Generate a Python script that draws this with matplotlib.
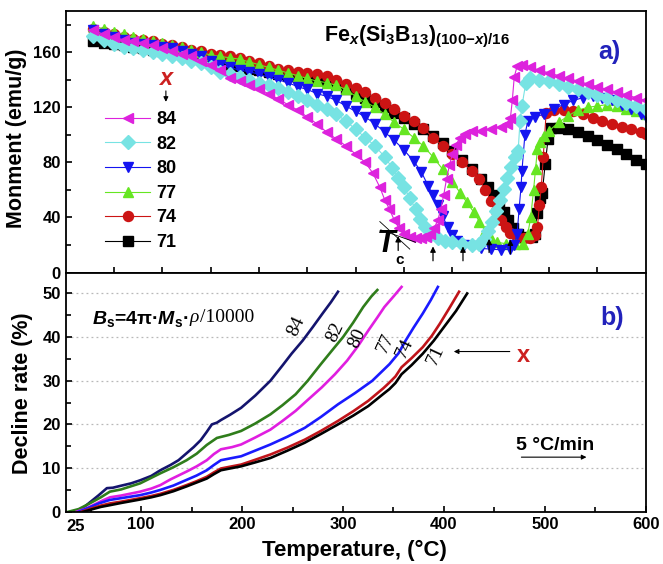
import matplotlib
matplotlib.use('Agg')
import matplotlib.pyplot as plt
from matplotlib.ticker import MultipleLocator

plt.rcParams['font.family'] = ['Liberation Sans', 'DejaVu Sans']
plt.rcParams['font.weight'] = 'bold'
plt.rcParams['mathtext.fontset'] = 'custom'
plt.rcParams['mathtext.rm'] = 'Liberation Sans:bold'
plt.rcParams['mathtext.it'] = 'Liberation Sans:italic:bold'
plt.rcParams['mathtext.bf'] = 'Liberation Sans:bold'

## a) moment vs temperature, one (T, M) pair of lists per x
t84 = [28, 40, 50, 60, 70, 80, 90, 100, 110, 120, 130, 140, 150, 160, 170, 180, 190, 200, 210, 220,
       230, 240, 250, 260, 270, 280, 290, 300, 310, 318, 325, 330, 335, 340, 345, 350, 356, 362, 368, 373,
       377, 381, 385, 388, 391, 394, 397, 400, 404, 408, 413, 420, 430, 440, 450, 456, 460, 462, 464, 467,
       472, 480, 490, 500, 510, 520, 530, 540, 550, 560, 570, 580, 590, 600]
m84 = [176, 173, 171, 169, 168, 167, 165, 163, 161, 159, 157, 154, 151, 147, 141, 139, 136, 133, 130, 126,
       122, 118, 113, 108, 102, 97, 92, 86, 80, 72, 62, 53, 46, 38, 32, 28, 26, 25, 25, 26,
       28, 32, 38, 46, 56, 68, 78, 86, 93, 98, 101, 103, 103, 104, 106, 108, 112, 125, 142, 150,
       151, 149, 147, 145, 143, 141, 139, 137, 135, 133, 131, 129, 127, 125]

t82 = [28, 40, 50, 60, 70, 80, 90, 100, 110, 120, 130, 140, 150, 160, 170, 180, 190, 200, 210, 220,
       230, 240, 250, 260, 270, 280, 290, 300, 310, 320, 330, 338, 344, 350, 356, 362, 367, 372, 378, 385,
       392, 400, 410, 420, 428, 433, 437, 441, 445, 449, 453, 457, 461, 465, 468, 470, 472, 476, 480, 490,
       500, 510, 520, 530, 540, 550, 560, 570, 580, 590, 600]
m82 = [172, 169, 166, 164, 163, 162, 160, 159, 157, 156, 154, 152, 149, 146, 144, 142, 140, 138, 136, 134,
       131, 128, 125, 122, 119, 115, 110, 104, 98, 92, 84, 76, 69, 62, 54, 46, 39, 33, 28, 25,
       23, 22, 21, 20, 21, 24, 30, 37, 45, 53, 61, 69, 77, 84, 88, 110, 121, 138, 141, 140,
       139, 137, 135, 133, 131, 129, 127, 125, 123, 121, 119]

t80 = [28, 40, 50, 60, 70, 80, 90, 100, 110, 120, 130, 140, 150, 160, 170, 180, 190, 200, 210, 220,
       230, 240, 250, 260, 270, 280, 290, 300, 310, 320, 330, 340, 350, 360, 368, 375, 380, 385, 390, 395,
       400, 405, 412, 420, 430, 440, 450, 460, 464, 467, 469, 471, 472, 475, 478, 485, 495, 505, 515, 525,
       535, 545, 555, 565, 575, 585, 595, 600]
m80 = [176, 173, 171, 169, 167, 166, 165, 164, 163, 161, 159, 157, 154, 151, 149, 147, 146, 144, 142, 140,
       138, 135, 133, 130, 128, 125, 121, 117, 113, 108, 102, 96, 89, 81, 73, 63, 56, 49, 41, 33,
       27, 23, 20, 19, 17.5, 17, 16.5, 17, 20, 28, 46, 62, 74, 100, 110, 113, 115, 119, 122, 125,
       127, 128, 127, 125, 122, 119, 115, 113]

t77 = [28, 40, 50, 60, 70, 80, 90, 100, 110, 120, 130, 140, 150, 160, 170, 180, 190, 200, 210, 220,
       230, 240, 250, 260, 270, 280, 290, 300, 310, 320, 330, 340, 350, 360, 370, 380, 390, 400, 408, 415,
       422, 428, 434, 440, 446, 455, 465, 473, 478, 481, 484, 486, 488, 491, 495, 500, 510, 520, 530, 540,
       550, 560, 570, 580, 590, 600]
m77 = [179, 177, 175, 173, 171, 170, 168, 167, 165, 164, 162, 160, 158, 157, 156, 155, 153, 151, 149, 147,
       145, 143, 141, 139, 138, 136, 133, 128, 124, 120, 115, 109, 104, 98, 92, 84, 75, 66, 58, 51,
       44, 37, 30, 25, 22, 21, 21, 21, 28, 40, 60, 75, 90, 95, 99, 103, 109, 114, 118, 120,
       121, 122, 121, 119, 117, 115]

t74 = [28, 40, 50, 60, 70, 80, 90, 100, 110, 120, 130, 140, 150, 160, 170, 180, 190, 200, 210, 220,
       230, 240, 250, 260, 270, 280, 290, 300, 310, 320, 330, 340, 350, 360, 370, 380, 390, 400, 410, 420,
       428, 434, 440, 445, 450, 455, 460, 467, 474, 480, 485, 488, 490, 492, 494, 497, 505, 515, 525, 535,
       545, 555, 565, 575, 585, 595, 600]
m74 = [177, 175, 173, 171, 170, 169, 168, 166, 165, 164, 162, 161, 159, 158, 157, 156, 154, 152, 150, 148,
       147, 146, 145, 144, 143, 140, 137, 134, 131, 127, 123, 119, 114, 110, 105, 98, 92, 86, 80, 74,
       68, 60, 52, 45, 38, 33, 29, 26, 25, 25, 27, 33, 49, 62, 84, 116, 118, 118, 117, 115,
       112, 110, 108, 106, 104, 102, 101]

t71 = [28, 40, 50, 60, 70, 80, 90, 100, 110, 120, 130, 140, 150, 160, 170, 180, 190, 200, 210, 220,
       230, 240, 250, 260, 270, 280, 290, 300, 310, 320, 330, 340, 350, 360, 370, 380, 390, 400, 410, 420,
       430, 437, 443, 448, 453, 458, 463, 468, 475, 482, 485, 488, 491, 493, 496, 499, 502, 510, 520, 530,
       540, 550, 560, 570, 580, 590, 600]
m71 = [168, 167, 166, 165, 164, 163, 162, 161, 160, 159, 157, 156, 155, 153, 151, 150, 148, 147, 146, 144,
       143, 142, 141, 140, 139, 137, 133, 130, 127, 124, 120, 116, 112, 108, 104, 99, 94, 88, 82, 75,
       68, 62, 56, 49, 44, 38, 32, 28, 26, 26, 28, 43, 54, 58, 79, 97, 105, 105, 104, 102,
       99, 96, 93, 90, 86, 82, 79]

## b) decline rate vs temperature
dt84 = [33, 42, 50, 58, 66, 72, 79, 90, 99, 110, 119, 129, 137, 145, 152, 159, 165, 170, 175, 179,
        188, 199, 213, 228, 240, 249, 260, 270, 280, 288, 295]
d84 = [0, 0.8, 2.3, 3.8, 5.4, 5.5, 5.9, 6.5, 7.2, 8.2, 9.5, 10.7, 11.8, 13.4, 14.8, 16.4, 18.3, 20.0, 20.4, 21.0,
       22.2, 23.8, 26.6, 30.0, 33.5, 36.2, 39.2, 42.3, 45.5, 48.0, 50.4]

dt82 = [28, 38, 49, 60, 69, 80, 99, 119, 132, 145, 155, 165, 175, 187, 199, 213, 228, 240, 253, 265,
        278, 290, 300, 310, 320, 328, 334]
d82 = [0, 0.6, 1.9, 3.3, 4.6, 5.1, 6.5, 8.8, 10.2, 11.8, 13.3, 15.3, 16.9, 17.6, 18.5, 20.2, 22.3, 24.4, 26.9, 30.0,
       33.8, 37.2, 40.0, 43.3, 46.9, 49.3, 50.8]

dt80 = [36, 45, 55, 62, 69, 80, 99, 110, 119, 129, 145, 155, 165, 172, 179, 190, 199, 213, 228, 240,
        253, 265, 279, 292, 304, 315, 325, 334, 341, 350, 358]
d80 = [0, 0.7, 1.8, 2.6, 3.3, 3.7, 4.6, 5.3, 6.1, 7.4, 9.2, 10.4, 11.8, 13.2, 14.3, 14.8, 15.4, 17.0, 18.8, 20.8,
       23.1, 25.6, 28.5, 31.5, 34.6, 38.0, 41.5, 44.5, 46.9, 49.3, 51.5]

dt77 = [38, 48, 58, 69, 80, 99, 110, 119, 132, 145, 155, 165, 172, 179, 190, 199, 213, 228, 245, 262,
        278, 295, 312, 329, 346, 355, 362, 370, 379, 387, 394]
d77 = [0, 0.9, 1.9, 2.7, 3.1, 3.8, 4.4, 5.0, 6.0, 7.3, 8.3, 9.5, 10.7, 11.8, 12.3, 12.7, 14.0, 15.4, 17.2, 19.2,
       21.7, 24.6, 27.2, 30.0, 33.8, 36.3, 39.2, 42.2, 45.4, 48.5, 51.5]

dt74 = [41, 50, 60, 69, 80, 99, 110, 119, 132, 145, 155, 165, 172, 179, 190, 199, 213, 228, 245, 262,
        278, 295, 310, 325, 340, 346, 352, 358, 368, 379, 388, 396, 405, 415]
d74 = [0, 0.7, 1.4, 1.9, 2.3, 3.1, 3.6, 4.1, 5.0, 6.1, 7.0, 8.0, 9.0, 9.9, 10.4, 10.8, 11.9, 13.1, 14.7, 16.5,
       18.5, 20.8, 23.0, 25.4, 28.3, 29.6, 31.0, 33.1, 35.2, 37.7, 40.3, 43.1, 46.5, 50.4]

dt71 = [43, 52, 60, 69, 80, 99, 110, 119, 132, 145, 155, 165, 172, 179, 190, 199, 213, 228, 245, 262,
        278, 295, 310, 325, 340, 346, 352, 358, 368, 379, 390, 400, 412, 423]
d71 = [0, 0.6, 1.1, 1.5, 2.0, 2.8, 3.3, 3.8, 4.7, 5.8, 6.7, 7.6, 8.6, 9.5, 10.0, 10.4, 11.3, 12.3, 14.0, 15.8,
       17.8, 20.0, 22.0, 24.2, 27.0, 28.1, 29.5, 31.5, 33.6, 36.2, 39.2, 42.3, 46.0, 50.0]

labels = ['84', '82', '80', '77', '74', '71']
top_colors = ['#dd22dd', '#77e3e3', '#1414f0', '#66e622', '#cc1414', '#000000']
top_markers = ['<', 'D', 'v', '^', 'o', 's']
bot_colors = ['#14146e', '#2f7d1b', '#e01ee0', '#1a1aff', '#c0141a', '#000000']

## where the Tc arrows sit in a) (T, tail, head)
tc_arrows = [(344, 14, 28.5), (380, 6.5, 21), (411, 6.5, 21), (438, 12.5, 26.5), (460, 11.5, 26)]
## curve labels in b) (T, D)
curve_label_pos = [(254, 42.4), (292, 41.2), (314, 39.7), (342, 38.5), (361, 37.4), (392, 35.9)]


def style_axes(ax):

    for side in ax.spines.values():
        side.set_linewidth(1.3)
    ax.tick_params(which='both', direction='in', width=1.2, labelsize=12, right=False, top=False)
    ax.tick_params(which='major', length=4.5)
    ax.tick_params(which='minor', length=3.5)
    for lab in ax.get_xticklabels() + ax.get_yticklabels():
        lab.set_fontweight('bold')


fig = plt.figure(figsize=(6.63, 5.64), dpi=100)
ax1 = fig.add_axes([0.0988, 0.5168, 0.8752, 0.4637])
ax2 = fig.add_axes([0.0988, 0.0927, 0.8752, 0.4241])

# ---- a) ----
top_t = [t84, t82, t80, t77, t74, t71]
top_m = [m84, m82, m80, m77, m74, m71]
handles = []
for i in reversed(range(6)):
    h, = ax1.plot(top_t[i], top_m[i], color=top_colors[i], marker=top_markers[i], ms=7.2,
                  mfc=top_colors[i], mec=top_colors[i], lw=0.8, label=labels[i])
    handles.insert(0, h)

ax1.set_xlim(0, 600)
ax1.set_ylim(0, 190)
ax1.set_xticks(range(50, 600, 50))
ax1.set_yticks(range(0, 161, 40))
ax1.yaxis.set_minor_locator(MultipleLocator(20))
style_axes(ax1)
ax1.tick_params(axis='x', labelbottom=False)
ax1.set_ylabel('Monment (emu/g)', fontsize=15.5, fontweight='bold')
ax1.yaxis.set_label_coords(-0.066, 0.512)

ax1.legend(handles, labels, loc='upper left', bbox_to_anchor=(0.068, 0.617), frameon=False,
           handlelength=2.5, handletextpad=0.35, labelspacing=0.42, borderpad=0, borderaxespad=0,
           prop=dict(weight='bold', size=13))
ax1.text(0.173, 0.74, 'x', transform=ax1.transAxes, color='#cc2020', fontsize=17,
         fontweight='bold', style='italic', ha='center', va='center')
ax1.annotate('', xy=(0.173, 0.642), xytext=(0.173, 0.705), xycoords='axes fraction',
             arrowprops=dict(arrowstyle='-|>', color='k', lw=0.8, mutation_scale=7))

ax1.text(0.606, 0.9, r'Fe$_{x}$(Si$_{3}$B$_{13}$)$_{(100{-}x)/16}$', transform=ax1.transAxes,
         fontsize=15.5, fontweight='bold', ha='center', va='center')
ax1.text(0.938, 0.845, 'a)', transform=ax1.transAxes, color='#2222bb', fontsize=18,
         fontweight='bold', ha='center', va='center')

for t, tail, head in tc_arrows:
    ax1.annotate('', xy=(t, head), xytext=(t, tail),
                 arrowprops=dict(arrowstyle='-|>', color='k', lw=0.9, mutation_scale=8))
ax1.plot([325, 356], [37, 17], color='k', lw=0.6)
ax1.plot([326, 362], [31, 22], color='k', lw=0.6)
ax1.text(332, 20.5, 'T', fontsize=22, fontweight='bold', style='italic', ha='center', va='center')
ax1.text(345, 9, 'c', fontsize=11, fontweight='bold', ha='center', va='center')

# ---- b) ----
bot_t = [dt84, dt82, dt80, dt77, dt74, dt71]
bot_d = [d84, d82, d80, d77, d74, d71]
for i in range(6):
    ax2.plot(bot_t[i], bot_d[i], color=bot_colors[i], lw=1.9)
    x, y = curve_label_pos[i]
    ax2.text(x, y, labels[i], family='Liberation Serif', fontweight='normal', fontsize=14,
             rotation=65, ha='center', va='center')

ax2.set_xlim(25, 600)
ax2.set_ylim(0, 54.8)
ax2.set_xticks([100, 200, 300, 400, 500, 600])
ax2.set_xticks(range(50, 600, 100), minor=True)
ax2.set_yticks(range(0, 51, 10))
ax2.yaxis.set_minor_locator(MultipleLocator(5))
for y in range(10, 51, 10):
    ax2.axhline(y, color='#b8b8b8', lw=0.9, ls=(0, (1.5, 2.5)), zorder=0)
style_axes(ax2)
ax2.text(35.5, -0.062, '25', transform=ax2.get_xaxis_transform(), fontsize=12,
         fontweight='bold', ha='center', va='center')
ax2.set_xlabel('Temperature, (\u00b0C)', fontsize=16, fontweight='bold')
ax2.xaxis.set_label_coords(0.498, -0.118)
ax2.set_ylabel('Decline rate (%)', fontsize=15.5, fontweight='bold')
ax2.yaxis.set_label_coords(-0.056, 0.496)

part1 = ax2.text(51, 43.0, '$B_\\mathrm{s}$=4\u03c0\u00b7$M_\\mathrm{s}$\u00b7', fontsize=14,
                 fontweight='bold', ha='left', va='baseline')
rho = ax2.annotate('\u03c1', xy=(1, 0), xycoords=part1, xytext=(1, 2.5), textcoords='offset points',
                   family='Liberation Serif', fontweight='normal', style='italic', fontsize=14,
                   ha='left', va='bottom')
ax2.annotate('/10000', xy=(1, 0), xycoords=rho, xytext=(0.5, 0), textcoords='offset points',
             family='Liberation Serif', fontweight='normal', fontsize=14, ha='left', va='bottom')
ax2.text(0.942, 0.808, 'b)', transform=ax2.transAxes, color='#2222bb', fontsize=18,
         fontweight='bold', ha='center', va='center')

ax2.text(510, 15.2, '5 \u00b0C/min', fontsize=14, fontweight='bold', ha='center', va='center')
ax2.annotate('', xy=(544, 12.5), xytext=(474, 12.5),
             arrowprops=dict(arrowstyle='-|>', color='k', lw=0.8, mutation_scale=7))
ax2.text(479, 35.8, 'x', color='#cc2020', fontsize=17, fontweight='bold', ha='center', va='center')
ax2.annotate('', xy=(407, 36.7), xytext=(468, 36.7),
             arrowprops=dict(arrowstyle='-|>', color='k', lw=0.8, mutation_scale=7))

fig.savefig('out.png', dpi=100)
